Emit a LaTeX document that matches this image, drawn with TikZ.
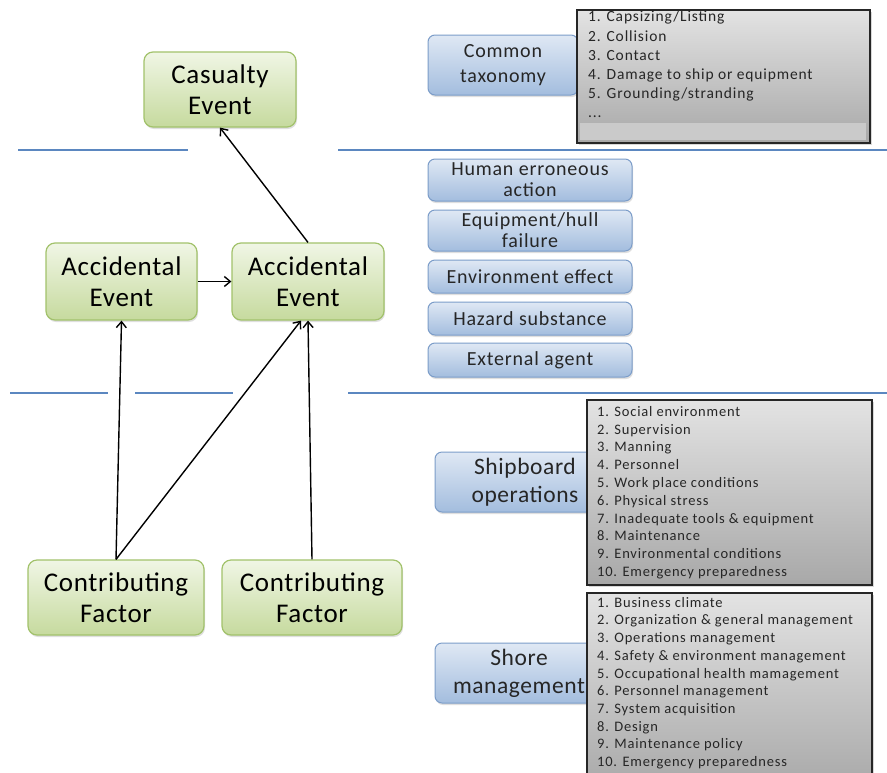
\documentclass[tikz,border=0pt]{standalone}
\usepackage{fontspec}
\setmainfont{Carlito}[LetterSpace=2.5]
\newfontfamily\listfont{Carlito}[LetterSpace=5.5]
\newfontfamily\topicfont{Carlito}[LetterSpace=4]
\usetikzlibrary{arrows.meta,shadows}
\definecolor{grnline}{HTML}{A2C26B}
\definecolor{grntop}{HTML}{F0F6E5}
\definecolor{grnbot}{HTML}{C6DA9E}
\definecolor{blueline}{HTML}{7C9DC9}
\definecolor{bluetop}{HTML}{DFE8F4}
\definecolor{bluebot}{HTML}{A3BDDE}
\definecolor{sepline}{HTML}{5B87C0}
\definecolor{listtop}{HTML}{E3E3E3}
\definecolor{listbot}{HTML}{A8A8A8}
\definecolor{listbar}{HTML}{CACACA}
\tikzset{
  event/.style={draw=grnline,line width=1.2pt,rounded corners=9pt,
    top color=grntop,bottom color=grnbot,align=center,inner sep=0pt,
    font=\fontsize{27}{31}\selectfont,
    drop shadow={shadow xshift=1pt,shadow yshift=-2pt,opacity=0.25}},
  topic/.style={draw=blueline,line width=1pt,rounded corners=7pt,
    top color=bluetop,bottom color=bluebot,align=center,inner sep=0pt,
    text=black!85,
    drop shadow={shadow xshift=1pt,shadow yshift=-2pt,opacity=0.25}},
  listbox/.style={draw=black!85,line width=1.5pt,top color=listtop,
    bottom color=listbot,inner sep=0pt,
    drop shadow={shadow xshift=2pt,shadow yshift=-2pt,opacity=0.3}},
  listtext/.style={anchor=north west,align=left,inner sep=0pt,text=black!85},
  sep/.style={draw=sepline,line width=1.1pt}
}
\begin{document}
\begin{tikzpicture}[x=1pt,y=-1pt,>={Straight Barb[length=6pt,width=10pt]}]
  \useasboundingbox[fill=white] (0,0) rectangle (887,772);
  \draw[sep] (18,150) -- (188,150);
  \draw[sep] (338,150) -- (887,150);
  \draw[sep] (10,393) -- (108,393);
  \draw[sep] (135,393) -- (233,393);
  \draw[sep] (348,393) -- (887,393);
  \node[event,minimum width=152pt,minimum height=75pt] (cas) at (220,89.5) {Casualty\\Event};
  \node[event,minimum width=151pt,minimum height=77pt] (ael) at (121.5,281.5) {Accidental\\Event};
  \node[event,minimum width=152pt,minimum height=77pt] (aer) at (308,281.5) {Accidental\\Event};
  \node[event,minimum width=176pt,minimum height=75pt] (cfl) at (116,597.5) {Contributing\\Factor};
  \node[event,minimum width=180pt,minimum height=75pt] (cfr) at (312,597.5) {Contributing\\Factor};
  \node[topic,minimum width=150pt,minimum height=60pt,font=\topicfont\fontsize{20}{25}\selectfont]
    (tax) at (503,65) {Common\\taxonomy};
  \node[topic,minimum width=204pt,minimum height=42pt,font=\topicfont\fontsize{20}{21}\selectfont]
    (hum) at (530,180) {Human erroneous\\action};
  \node[topic,minimum width=204pt,minimum height=41pt,font=\topicfont\fontsize{20}{21}\selectfont]
    (equ) at (530,230.5) {Equipment/hull\\failure};
  \node[topic,minimum width=204pt,minimum height=33pt,font=\topicfont\fontsize{20}{21}\selectfont]
    (env) at (530,276.5) {Environment effect};
  \node[topic,minimum width=204pt,minimum height=33pt,font=\topicfont\fontsize{20}{21}\selectfont]
    (haz) at (530,318.5) {Hazard substance};
  \node[topic,minimum width=204pt,minimum height=34pt,font=\topicfont\fontsize{20}{21}\selectfont]
    (ext) at (530,360) {External agent};
  \node[topic,minimum width=180pt,minimum height=60pt,font=\fontsize{23.5}{28}\selectfont]
    (ship) at (525,482) {Shipboard\\operations};
  \node[topic,minimum width=168pt,minimum height=60pt,font=\fontsize{23.5}{28}\selectfont]
    (shore) at (519,673) {Shore\\management};
  \node[listbox,minimum width=293pt,minimum height=133pt] (cat) at (723.5,76.5) {};
  \fill[listbar] (580,123) rectangle (866,140);
  \node[listtext,font=\listfont\fontsize{15.5}{19.2}\selectfont] (catl) at (588,11)
    {1. Capsizing/Listing\\2. Collision\\3. Contact\\4. Damage to ship or equipment\\
     5. Grounding/stranding\\...};
  \node[listbox,minimum width=285pt,minimum height=185pt] (fac) at (729.5,492.5) {};
  \node[listtext,font=\listfont\fontsize{14.5}{17.8}\selectfont] (facl) at (597,406)
    {1. Social environment\\2. Supervision\\3. Manning\\4. Personnel\\
     5. Work place conditions\\6. Physical stress\\7. Inadequate tools \& equipment\\
     8. Maintenance\\9. Environmental conditions\\10. Emergency preparedness};
  \node[listbox,minimum width=285pt,minimum height=197pt] (mgt) at (729.5,691.5) {};
  \node[listtext,font=\listfont\fontsize{14.5}{17.7}\selectfont] (mgtl) at (597,597)
    {1. Business climate\\2. Organization \& general management\\
     3. Operations management\\4. Safety \& environment management\\
     5. Occupational health mamagement\\6. Personnel management\\
     7. System acquisition\\8. Design\\9. Maintenance policy\\10. Emergency preparedness};
  \path[line width=1.4pt]
    (ael) edge [->] (aer)
    (aer.north) edge [->] (cas.south)
    (cfl.north) edge [->] (ael.south)
    (cfl.north) edge [->] ([xshift=-7pt]aer.south)
    (cfr.north) edge [->] (aer.south);
\end{tikzpicture}
\end{document}
